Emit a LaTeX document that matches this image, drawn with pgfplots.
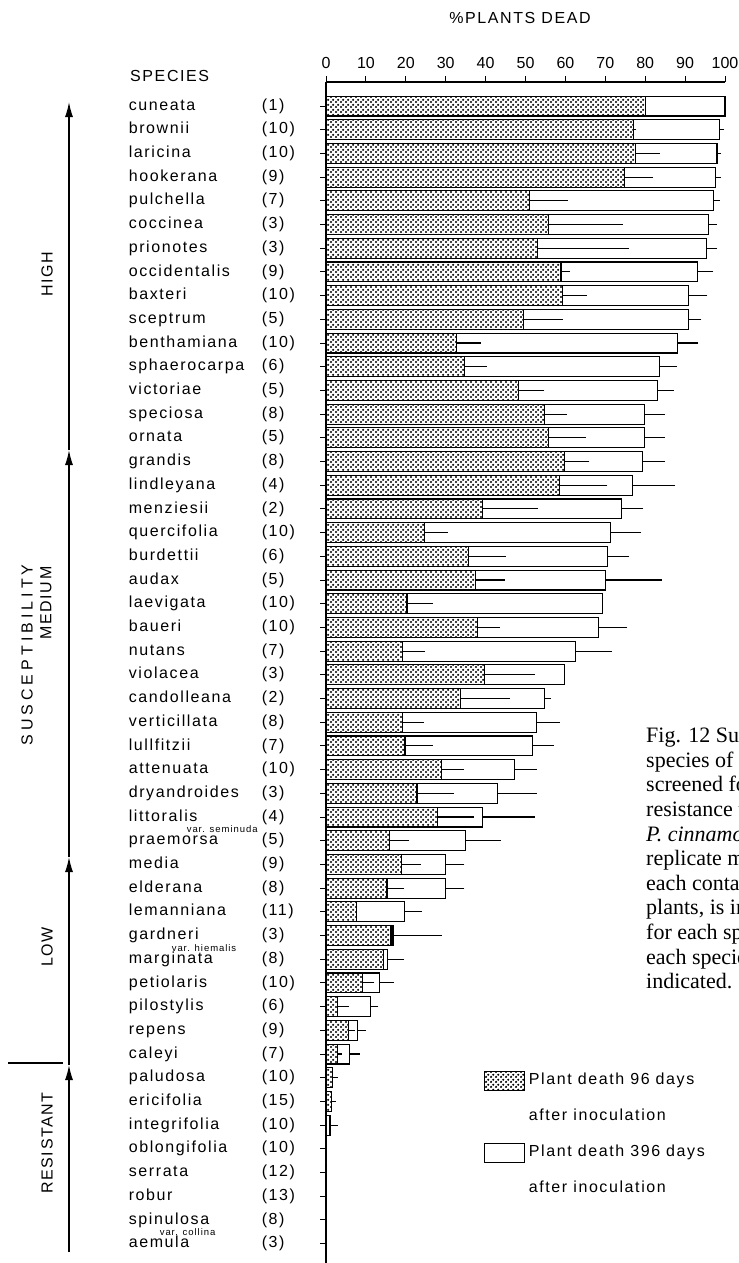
\documentclass[border=0pt]{standalone}
\usepackage{fontspec}
\setmainfont{Liberation Sans}[LetterSpace=10]
\newfontfamily\capfont{Liberation Serif}
\newfontfamily\tickfont{Liberation Sans}
\usepackage{pgfplots}
\pgfplotsset{compat=1.18}
\usepackage{pgfplotstable}
\usetikzlibrary{patterns,arrows.meta}
\pgfdeclarepatternformonly{stipple}{\pgfpointorigin}{\pgfpoint{5bp}{5bp}}{\pgfpoint{5bp}{5bp}}{%
  \pgfpathcircle{\pgfpoint{1.25bp}{1.25bp}}{1.35bp}%
  \pgfpathcircle{\pgfpoint{3.75bp}{3.75bp}}{1.35bp}%
  \pgfusepath{fill}}
\newcommand\lbl{\fontsize{16bp}{19bp}\selectfont}
\newcommand\spl[2]{\makebox[133bp][l]{#1}\makebox[40bp][l]{#2}}
\newcommand\vr[3]{\rlap{\hspace*{#1}\smash{\raisebox{-#2}{\fontsize{9.5bp}{10bp}\selectfont var. #3}}}}
\pgfplotstableread{
i v96 e96 v396 e396
0 80 0 100 0
1 77 0.8 98.7 1.1
2 77.6 6 98 1
3 74.8 7.2 97.7 1.3
4 50.9 9.7 97.2 1.5
5 55.7 18.7 95.8 2.1
6 53 23 95.4 2.6
7 58.9 2.3 93.1 4
8 59.3 6.1 90.9 4.7
9 49.5 9.8 90.9 3.2
10 32.7 6.1 88 5.3
11 34.6 5.7 83.6 4.4
12 48.2 6.5 83 4.2
13 54.7 5.7 79.9 5.1
14 55.7 9.5 79.9 5
15 59.7 6.3 79.3 5.6
16 58.6 11.9 76.8 10.6
17 39.2 14 74 5.4
18 24.7 5.8 71.3 7.6
19 35.7 9.3 70.5 5.5
20 37.4 7.4 70 14.2
21 20.3 6.5 69.4 0
22 37.9 5.7 68.3 7.1
23 19.1 5.6 62.6 9
24 39.8 12.5 59.7 0
25 33.7 12.3 54.7 1.7
26 19.1 5.4 52.8 5.8
27 19.8 7 51.8 5.4
28 29 5.6 47.3 5.5
29 22.8 9.2 43 9.8
30 27.9 9.2 39.3 13
31 15.9 5 35 8.8
32 19 4.8 29.9 4.8
33 15.3 4.3 29.9 4.8
34 7.7 0 19.6 4.4
35 16.3 0 16.8 12.2
36 14.4 0 15.4 4.2
37 9.1 3 13.5 3.6
38 2.9 2.9 11.1 2
39 5.7 1.5 7.9 2
40 2.8 1.2 6 2.4
41 1.6 1.4 1.6 0
42 1.4 1 1.4 0
43 0 0 1 2
44 0 0 0 0
45 0 0 0 0
46 0 0 0 0
47 0 0 0 0
48 0 0 0 0
}\data
\begin{document}
\begin{tikzpicture}
\useasboundingbox (0,0) rectangle (739bp,-1263bp);
\begin{axis}[
  at={(326bp,-82bp)}, anchor=north west,
  scale only axis, width=399bp, height=1181bp,
  xmin=0, xmax=100, ymin=-1.013, ymax=48.82, y dir=reverse,
  enlargelimits=false, clip=false,
  axis x line=top, axis y line=left, axis line style={-, line width=1.4bp},
  xtick={0,10,...,100}, xtick pos=right, xticklabel pos=right,
  ytick={0,...,48}, ytick pos=left,
  tick align=outside, major tick length=6bp,
  tick style={line width=1bp, black},
  /pgf/number format/assume math mode=true,
  xticklabel style={font=\tickfont\lbl, yshift=4bp},
  yticklabel style={font=\lbl, anchor=east, inner sep=0pt, xshift=-18bp},
  yticklabels={
    {\spl{cuneata}{(1)}},{\spl{brownii}{(10)}},{\spl{laricina}{(10)}},{\spl{hookerana}{(9)}},
    {\spl{pulchella}{(7)}},{\spl{coccinea}{(3)}},{\spl{prionotes}{(3)}},{\spl{occidentalis}{(9)}},
    {\spl{baxteri}{(10)}},{\spl{sceptrum}{(5)}},{\spl{benthamiana}{(10)}},{\spl{sphaerocarpa}{(6)}},
    {\spl{victoriae}{(5)}},{\spl{speciosa}{(8)}},{\spl{ornata}{(5)}},{\spl{grandis}{(8)}},
    {\spl{lindleyana}{(4)}},{\spl{menziesii}{(2)}},{\spl{quercifolia}{(10)}},{\spl{burdettii}{(6)}},
    {\spl{audax}{(5)}},{\spl{laevigata}{(10)}},{\spl{baueri}{(10)}},{\spl{nutans}{(7)}},
    {\spl{violacea}{(3)}},{\spl{candolleana}{(2)}},{\spl{verticillata}{(8)}},{\spl{lullfitzii}{(7)}},
    {\spl{attenuata}{(10)}},{\spl{dryandroides}{(3)}},{\spl{\vr{58bp}{11.5bp}{seminuda}littoralis}{(4)}},
    {\spl{praemorsa}{(5)}},{\spl{media}{(9)}},{\spl{elderana}{(8)}},{\spl{lemanniana}{(11)}},
    {\spl{\vr{43bp}{11.5bp}{hiemalis}gardneri}{(3)}},{\spl{marginata}{(8)}},{\spl{petiolaris}{(10)}},
    {\spl{pilostylis}{(6)}},{\spl{repens}{(9)}},{\spl{caleyi}{(7)}},{\spl{paludosa}{(10)}},
    {\spl{ericifolia}{(15)}},{\spl{integrifolia}{(10)}},{\spl{oblongifolia}{(10)}},{\spl{serrata}{(12)}},
    {\spl{robur}{(13)}},{\spl{\vr{31bp}{11.5bp}{collina}spinulosa}{(8)}},{\spl{aemula}{(3)}}},
  legend style={at={(axis cs:39.5,40.62)}, anchor=north west, draw=none, fill=none,
    inner sep=0pt, row sep=12.5bp, font=\lbl,
    nodes={text height=12bp, text depth=3.5bp, inner sep=4bp}},
  legend cell align=left,
]
\addlegendimage{legend image code/.code={\draw[draw=black, line width=1.1bp, fill=white, postaction={pattern=stipple}] (0bp,-9.5bp) rectangle (40bp,9.5bp);}}
\addlegendentry{Plant death 96 days}
\addlegendimage{empty legend}
\addlegendentry{after inoculation}
\addlegendimage{legend image code/.code={\draw[draw=black, line width=1.1bp, fill=white] (0bp,-9.5bp) rectangle (40bp,9.5bp);}}
\addlegendentry{Plant death 396 days}
\addlegendimage{empty legend}
\addlegendentry{after inoculation}
\addplot[xbar, bar shift=0pt, bar width=0.84, draw=black, line width=1.1bp, fill=white, forget plot,
  error bars/.cd, x dir=plus, x explicit, error mark=none, error bar style={line width=1.1bp, black}]
  table[x=v396, y=i, x error=e396] {\data};
\addplot[xbar, bar shift=0pt, bar width=0.84, draw=black, line width=1.1bp, fill=white,
  postaction={pattern=stipple}, forget plot,
  error bars/.cd, x dir=plus, x explicit, error mark=none, error bar style={line width=1.1bp, black}]
  table[x=v96, y=i, x error=e96] {\data};
\end{axis}
\node[font=\lbl] at (520bp,-18bp) {\%PLANTS DEAD};
\node[font=\lbl, anchor=west, inner sep=0pt] at (130bp,-76bp) {SPECIES};
% group arrows
\begin{scope}[line width=1.3bp, arrows={-Latex[length=15bp,width=8bp]}]
\draw (69bp,-1252bp) -- (69bp,-1065bp);
\draw (69bp,-1065bp) -- (69bp,-857bp);
\draw (69bp,-857bp) -- (69bp,-450bp);
\draw (69bp,-450bp) -- (69bp,-102bp);
\end{scope}
\draw[line width=1.3bp] (8bp,-1063bp) -- (63bp,-1063bp);
\node[font=\lbl, rotate=90] at (47bp,-274bp) {HIGH};
\node[font=\lbl, rotate=90] at (27bp,-655bp) {\addfontfeature{LetterSpace=25}SUSCEPTIBILITY};
\node[font=\lbl, rotate=90] at (46bp,-603bp) {MEDIUM};
\node[font=\lbl, rotate=90] at (47bp,-947bp) {LOW};
\node[font=\lbl, rotate=90] at (47bp,-1143bp) {RESISTANT};
% caption (cropped by the page edge, as in the reference)
\node[anchor=north west, align=left, inner sep=0pt, font=\capfont\fontsize{22bp}{24.6bp}\selectfont] at (646bp,-727bp)
  {Fig. 12 Susceptibility of\\species of \textit{Banksia}\\screened for\\resistance to\\\textit{P. cinnamomi}\\replicate means\\each containing\\plants, is indicated\\for each species\\each species is\\indicated.};
\end{tikzpicture}
\end{document}
